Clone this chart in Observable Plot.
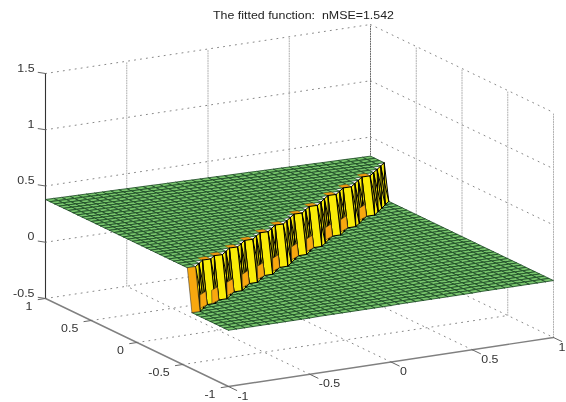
<!DOCTYPE html>
<html>
<head>
<meta charset="utf-8">
<script src="https://cdn.jsdelivr.net/npm/d3@7"></script>
<script src="https://cdn.jsdelivr.net/npm/@observablehq/plot@0.6"></script>
<style>
html,body{margin:0;padding:0;background:#fff;overflow:hidden}
svg{display:block;filter:blur(0.5px)}
</style>
</head>
<body>
<div id="chart"></div>
<script>
const titleText = "The fitted function:  nMSE=1.542";
const xTicks = [-1, -0.5, 0, 0.5, 1];
const yTicks = [-1, -0.5, 0, 0.5, 1];
const zTicks = [-0.5, 0, 0.5, 1, 1.5];
// index of the grid row (along y) where the step sits, per grid column (along x)
const stepRow = [8,8,9,10,10,11,11,12,13,13,14,15,15,16,17,17,18,19,19,20,21,22,22,23,24,24,25,26,27,27,28,29,29,30,31,32,32,33,34,35,36];
// height of the upper and lower plateau per grid column
const zUpper = [.380,.379,.377,.376,.375,.374,.372,.371,.370,.369,.367,.366,.365,.364,.362,.361,.360,.359,.357,.356,.355,.354,.352,.351,.350,.349,.347,.346,.345,.344,.342,.341,.340,.339,.337,.336,.335,.334,.332,.331,.330];
const zLower = [0,0,0,0,0,0,0,0,0,0,0,.002,.002,.002,.002,.002,.002,.002,.002,.002,.002,.004,.004,.004,.004,.004,.004,.004,.004,.004,.004,.006,.006,.006,.006,.006,.006,.006,.006,.006,.006];

const N = 40;
const gx = i => -1 + i * 2 / N;
// MATLAB-style orthographic view
const proj = (x, y, z) => {
  const u = (x + 1) / 2, v = (y + 1) / 2;
  return [228 + 325 * u - 183 * v, 386 - 49 * u - 88 * v - (z + 0.5) * 112.5];
};
const rows = (polys) => polys.flatMap((p, id) => p.map(q => {
  const [sx, sy] = proj(...q);
  return {sx, sy, id};
}));

// dotted grid
const xMid = xTicks.slice(1, -1), yMid = yTicks.slice(1, -1), zAll = zTicks;
const gridSparse = rows([
  ...zAll.map(z => [[-1, 1, z], [1, 1, z]]),
  ...zAll.map(z => [[1, 1, z], [1, -1, z]]),
  ...xMid.map(x => [[x, -1, -.5], [x, 1, -.5]]),
  ...yMid.map(y => [[-1, y, -.5], [1, y, -.5]])
]);
const gridDense = rows([
  ...xMid.map(x => [[x, 1, -.5], [x, 1, 1.5]]),
  ...yMid.map(y => [[1, y, -.5], [1, y, 1.5]]),
  [[1, -1, -.5], [1, -1, 1.5]]
]);
const gridBack = rows([[[1, 1, -.5], [1, 1, 1.5]]]);

// surface cells
const upperCells = [], lowerCells = [];
for (let i = N - 1; i >= 0; i--) {
  for (let j = N - 1; j >= 0; j--) {
    const hi = Math.max(stepRow[i], stepRow[i + 1]);
    const y0 = gx(j), y1 = gx(j + 1);
    if (j >= hi + 1) {
      upperCells.push([[gx(i), y0, zUpper[i]], [gx(i + 1), y0, zUpper[i + 1]], [gx(i + 1), y1, zUpper[i + 1]], [gx(i), y1, zUpper[i]], [gx(i), y0, zUpper[i]]]);
    } else if (j < hi) {
      lowerCells.push([[gx(i), y0, zLower[i]], [gx(i + 1), y0, zLower[i + 1]], [gx(i + 1), y1, zLower[i + 1]], [gx(i), y1, zLower[i]], [gx(i), y0, zLower[i]]]);
    }
  }
}

// step wall
const yellow = [], orange = [], caps = [], crossing = [];
for (let i = N - 1; i >= 0; i--) {
  const a = stepRow[i], b = stepRow[i + 1];
  const zlA = zLower[i], zlB = zLower[i + 1], zuA = zUpper[i], zuB = zUpper[i + 1];
  const quad = [[gx(i), gx(a), zlA], [gx(i + 1), gx(b), zlB], [gx(i + 1), gx(b + 1), zuB], [gx(i), gx(a + 1), zuA], [gx(i), gx(a), zlA]];
  if (i === 0) orange.push(quad);
  else yellow.push(quad);
  if (a === b && i > 0) {
    caps.push([[gx(i), gx(a + 1), zuA], [gx(i + 1), gx(b + 1), zuB], [gx(i + 1), gx(b + 2), zuB], [gx(i), gx(a + 2), zuA], [gx(i), gx(a + 1), zuA]]);
  }
  if (a !== b) {
    crossing.push([[gx(i), gx(a + 1), zuA], [gx(i + 1), gx(b), zlB]]);
    crossing.push([[gx(i + 1), gx(b + 1), zuB], [gx(i), gx(a), zlA]]);
  }
  if (stepRow[i + 2] === b && a !== b) {
    const f = 0.3;
    const lerp = (p, q) => p.map((v, k) => v + (q[k] - v) * f);
    const wide = [gx(i - 0.4), gx(a), zlA];
    const q1 = quad[1], q2 = lerp(quad[1], quad[2]), q3 = lerp(wide, quad[3]);
    orange.push([wide, q1, q2, q3, wide]);
  }
}

// axis frame
const frameLeft = rows([[[-1, 1, -.5], [-1, 1, 1.5]]]);
const frameFloor = rows([[[-1, 1, -.5], [-1, -1, -.5], [1, -1, -.5]]]);

const zTickSeg = rows(zTicks.map(z => [[-1, 1, z], [-1.045, 1, z + 0.02]]));
const yTickSeg = rows(yTicks.map(y => [[-1, y, -.5], [-1.045, y, -.5]]));
const xTickSeg = rows(xTicks.map(x => [[x, -1, -.5], [x, -1.09, -.5]]));

const pt = (x, y, z, label) => { const [sx, sy] = proj(x, y, z); return {sx, sy, label: String(label)}; };
const font = "Liberation Sans, Arial, Helvetica, sans-serif";
const tickText = {fontFamily: font, fontSize: 10, fill: "#333"};

const chart = Plot.plot({
  width: 566, height: 402,
  margin: 0,
  style: {background: "#fff", overflow: "hidden"},
  x: {domain: [0, 566], range: [0, 566], axis: null},
  y: {domain: [0, 402], range: [0, 402], axis: null},
  marks: [
    Plot.line(gridSparse, {x: "sx", y: "sy", z: "id", stroke: "#888", strokeWidth: 1, strokeDasharray: "1,5"}),
    Plot.line(gridDense, {x: "sx", y: "sy", z: "id", stroke: "#999", strokeWidth: 0.8, strokeDasharray: "1,1.5"}),
    Plot.line(gridBack, {x: "sx", y: "sy", z: "id", stroke: "#555", strokeWidth: 0.9, strokeDasharray: "1,1.5"}),
    Plot.line(frameLeft, {x: "sx", y: "sy", z: "id", stroke: "#333", strokeWidth: 1.1}),
    Plot.line(frameFloor, {x: "sx", y: "sy", z: "id", stroke: "#808080", strokeWidth: 1.4}),
    Plot.line(zTickSeg, {x: "sx", y: "sy", z: "id", stroke: "#666", strokeWidth: 1}),
    Plot.line(yTickSeg, {x: "sx", y: "sy", z: "id", stroke: "#666", strokeWidth: 1}),
    Plot.line(xTickSeg, {x: "sx", y: "sy", z: "id", stroke: "#666", strokeWidth: 1}),
    Plot.line(rows(upperCells), {x: "sx", y: "sy", z: "id", fill: "#78c66c", stroke: "#1d4a26", strokeWidth: 0.85}),
    Plot.line(rows(lowerCells), {x: "sx", y: "sy", z: "id", fill: "#78c66c", stroke: "#1d4a26", strokeWidth: 0.85}),
    Plot.line(rows(caps), {x: "sx", y: "sy", z: "id", fill: "#f0990f", stroke: "#b87a10", strokeWidth: 0.3}),
    Plot.line(rows(yellow), {x: "sx", y: "sy", z: "id", fill: "#f9ec08", stroke: "#000", strokeWidth: 1}),
    Plot.line(rows(crossing), {x: "sx", y: "sy", z: "id", stroke: "#000", strokeWidth: 1}),
    Plot.line(rows(orange), {x: "sx", y: "sy", z: "id", fill: "#f8a80f", stroke: "#222", strokeWidth: 0.5}),
    Plot.text(zTicks.map(z => pt(-1, 1, z, z)), {x: "sx", y: "sy", text: "label", textAnchor: "end", dx: -11, dy: -5, ...tickText}),
    Plot.text(yTicks.map(y => pt(-1, y, -.5, y)), {x: "sx", y: "sy", text: "label", textAnchor: "end", dx: -13, dy: 8, ...tickText}),
    Plot.text(xTicks.map(x => pt(x, -1, -.5, x)), {x: d => Math.min(d.sx, 549), y: "sy", text: "label", textAnchor: "start", dx: 9, dy: 10, ...tickText}),
    Plot.text([titleText], {frameAnchor: "top", dx: 20, dy: 11, fontFamily: font, fontSize: 10, fill: "#222"})
  ]
});
document.getElementById("chart").append(chart);
chart.querySelectorAll("text").forEach(t => {
  const w = t.getComputedTextLength();
  t.setAttribute("textLength", (w * 1.24).toFixed(1));
  t.setAttribute("lengthAdjust", "spacingAndGlyphs");
});
</script>
</body>
</html>
